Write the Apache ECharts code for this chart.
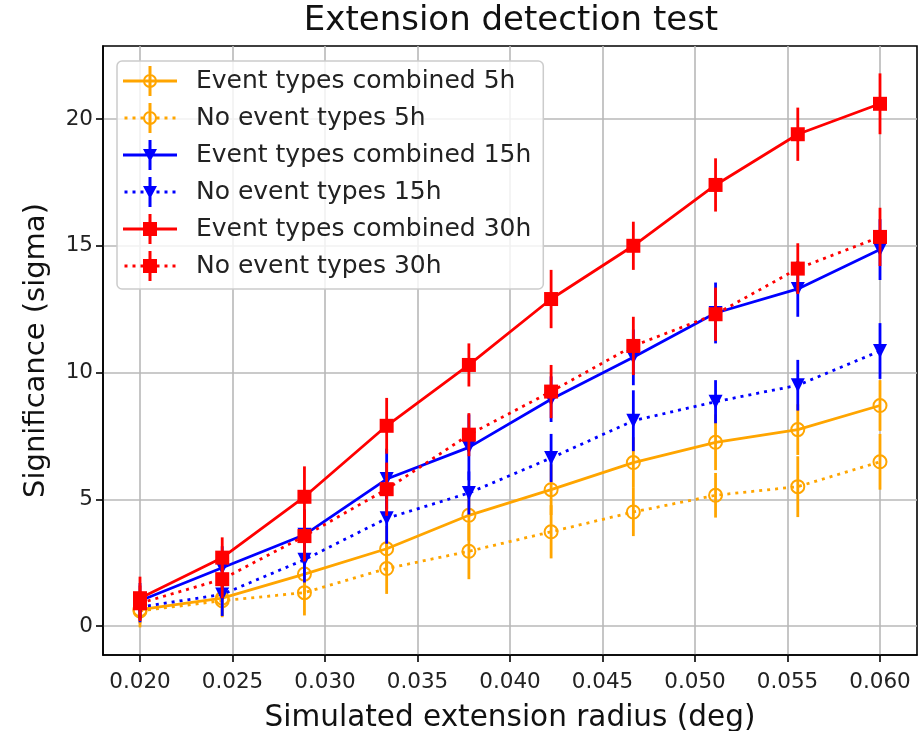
<!DOCTYPE html>
<html><head><meta charset="utf-8">
<script src="https://cdn.jsdelivr.net/npm/echarts/dist/echarts.min.js"></script>
<style>html,body{margin:0;padding:0;background:#fff}#c{width:922px;height:731px}</style>
</head><body><div id="c"></div>
<script>
// ---- data ----
const xValues = [0.020, 0.024444, 0.028889, 0.033333, 0.037778, 0.042222, 0.046667, 0.051111, 0.055556, 0.060];
const xTicks = [0.020, 0.025, 0.030, 0.035, 0.040, 0.045, 0.050, 0.055, 0.060];
const yTicks = [0, 5, 10, 15, 20];
const seriesNames = ['Event types combined 5h', 'No event types 5h', 'Event types combined 15h', 'No event types 15h', 'Event types combined 30h', 'No event types 30h'];
const comb5 = [0.65, 1.1, 2.05, 3.05, 4.37, 5.38, 6.45, 7.25, 7.75, 8.7];
const comb5Err = [0.55, 0.7, 0.8, 0.9, 1.0, 1.0, 1.0, 1.1, 1.0, 1.0];
const none5 = [0.6, 1.0, 1.32, 2.27, 2.95, 3.72, 4.5, 5.16, 5.5, 6.48];
const none5Err = [0.65, 0.65, 0.9, 1.0, 1.1, 1.05, 0.95, 0.88, 1.2, 1.1];
const comb15 = [1.0, 2.3, 3.6, 5.8, 7.05, 8.95, 10.6, 12.35, 13.3, 14.85];
const comb15Err = [0.7, 0.85, 1.0, 1.2, 1.3, 0.9, 1.1, 1.2, 1.1, 1.2];
const none15 = [0.75, 1.25, 2.62, 4.25, 5.25, 6.63, 8.1, 8.85, 9.5, 10.85];
const none15Err = [0.6, 0.85, 0.9, 1.0, 0.85, 0.95, 1.2, 0.85, 1.0, 1.1];
const comb30 = [1.1, 2.7, 5.1, 7.9, 10.3, 12.9, 15.0, 17.4, 19.4, 20.6];
const comb30Err = [0.85, 0.8, 1.2, 1.1, 0.85, 1.15, 0.95, 1.05, 1.05, 1.2];
const none30 = [0.9, 1.85, 3.55, 5.4, 7.55, 9.25, 11.05, 12.3, 14.1, 15.35];
const none30Err = [0.7, 0.75, 1.0, 1.05, 0.85, 1.05, 1.15, 1.05, 1.0, 1.15];

// ---- styling ----
const FONT = 'DejaVu Sans';
const ORANGE = '#ffa500', BLUE = '#0000ff', RED = '#ff0000';
const LW = 2.8;
const specs = [
  {vals: comb5, errs: comb5Err, color: ORANGE, dotted: false, marker: 'ring'},
  {vals: none5, errs: none5Err, color: ORANGE, dotted: true, marker: 'ring'},
  {vals: comb15, errs: comb15Err, color: BLUE, dotted: false, marker: 'tri'},
  {vals: none15, errs: none15Err, color: BLUE, dotted: true, marker: 'tri'},
  {vals: comb30, errs: comb30Err, color: RED, dotted: false, marker: 'sq'},
  {vals: none30, errs: none30Err, color: RED, dotted: true, marker: 'sq'}
];

function legendIcon(dotted, marker) {
  let p = '';
  if (dotted) {
    [3, 11, 19, 35, 43, 51].forEach(c => {
      p += `M${c - 1.5} 13.6 L${c + 1.5} 13.6 L${c + 1.5} 16.4 L${c - 1.5} 16.4 Z `;
    });
  } else {
    p += 'M0 13.6 L54 13.6 L54 16.4 L0 16.4 Z ';
  }
  p += 'M25.5 0 L28.5 0 L28.5 30 L25.5 30 Z ';
  if (marker === 'sq') p += 'M20 8 L34 8 L34 22 L20 22 Z';
  else if (marker === 'tri') p += 'M20 9 L34 9 L27 22 Z';
  else p += 'M20 15 A7 7 0 1 1 34 15 A7 7 0 1 1 20 15 Z M22 15 A5 5 0 1 0 32 15 A5 5 0 1 0 22 15 Z';
  return 'path://' + p;
}

const series = [];
specs.forEach((s, i) => {
  const z = 3 + i;
  series.push({
    type: 'custom', z: z, silent: true, animation: false,
    data: xValues.map((x, k) => [x, s.vals[k] - s.errs[k], s.vals[k] + s.errs[k]]),
    encode: {x: 0, y: [1, 2]},
    renderItem: function (params, api) {
      const p1 = api.coord([api.value(0), api.value(1)]);
      const p2 = api.coord([api.value(0), api.value(2)]);
      return {type: 'line', shape: {x1: p1[0], y1: p1[1], x2: p2[0], y2: p2[1]},
        style: {stroke: s.color, lineWidth: LW}};
    }
  });
  const symbol = s.marker === 'sq' ? 'rect' : (s.marker === 'tri' ? 'triangle' : 'circle');
  series.push({
    type: 'line', name: seriesNames[i], z: z, animation: false,
    data: xValues.map((x, k) => [x, s.vals[k]]),
    symbol: symbol, symbolSize: s.marker === 'ring' ? 13 : 14,
    symbolRotate: s.marker === 'tri' ? 180 : 0,
    showAllSymbol: true,
    lineStyle: {color: s.color, width: LW, type: s.dotted ? [3, 5] : 'solid', cap: 'butt'},
    itemStyle: s.marker === 'ring'
      ? {color: 'rgba(0,0,0,0)', borderColor: s.color, borderWidth: 2}
      : {color: s.color, borderWidth: 0},
    emphasis: {disabled: true}
  });
});

const chart = echarts.init(document.getElementById('c'), null, {renderer: 'canvas'});
chart.setOption({
  backgroundColor: '#fff',
  animation: false,
  textStyle: {fontFamily: FONT},
  title: {
    text: 'Extension detection test', left: 506, textAlign: 'center', top: -1,
    textStyle: {fontFamily: FONT, fontSize: 34, fontWeight: 'normal', color: '#111'}
  },
  grid: {left: 103, right: 5, top: 46, bottom: 76, show: true, borderColor: '#000', borderWidth: 1.6,
    containLabel: false, outerBoundsMode: 'none'},
  legend: {
    orient: 'vertical', left: 117, top: 61, z: 100,
    padding: [5, 12, 8, 6], itemGap: 7, itemWidth: 54, itemHeight: 30,
    backgroundColor: 'rgba(255,255,255,0.8)', borderColor: '#cccccc', borderWidth: 1.5, borderRadius: 5,
    selectedMode: false,
    textStyle: {fontFamily: FONT, fontSize: 25, color: '#222', padding: [0, 0, 0, 14]},
    data: specs.map((s, i) => ({name: seriesNames[i], icon: legendIcon(s.dotted, s.marker),
      itemStyle: {color: s.color, borderWidth: 0, opacity: 1}}))
  },
  xAxis: {
    type: 'value', min: 0.018, max: 0.062,
    name: 'Simulated extension radius (deg)', nameLocation: 'middle', nameGap: 48,
    nameTextStyle: {fontFamily: FONT, fontSize: 29.5, color: '#111'},
    axisLine: {show: true, onZero: false, lineStyle: {color: '#000', width: 1.6}},
    axisTick: {show: true, customValues: xTicks, length: 7, lineStyle: {color: '#000', width: 1.6}},
    axisLabel: {customValues: xTicks, formatter: v => v.toFixed(3), fontFamily: FONT, fontSize: 21.5, color: '#222', margin: 16},
    splitLine: {show: true, lineStyle: {color: '#b8b8b8', width: 1.6}}
  },
  yAxis: {
    type: 'value', min: -1.14, max: 22.88,
    name: 'Significance (sigma)', nameLocation: 'middle', nameGap: 52,
    nameTextStyle: {fontFamily: FONT, fontSize: 29, color: '#111'},
    axisLine: {show: true, onZero: false, lineStyle: {color: '#000', width: 1.6}},
    axisTick: {show: true, customValues: yTicks, length: 7, lineStyle: {color: '#000', width: 1.6}},
    axisLabel: {customValues: yTicks, fontFamily: FONT, fontSize: 21.5, color: '#222', margin: 10},
    splitLine: {show: true, lineStyle: {color: '#b8b8b8', width: 1.6}}
  },
  series: series
});
</script>
</body></html>
